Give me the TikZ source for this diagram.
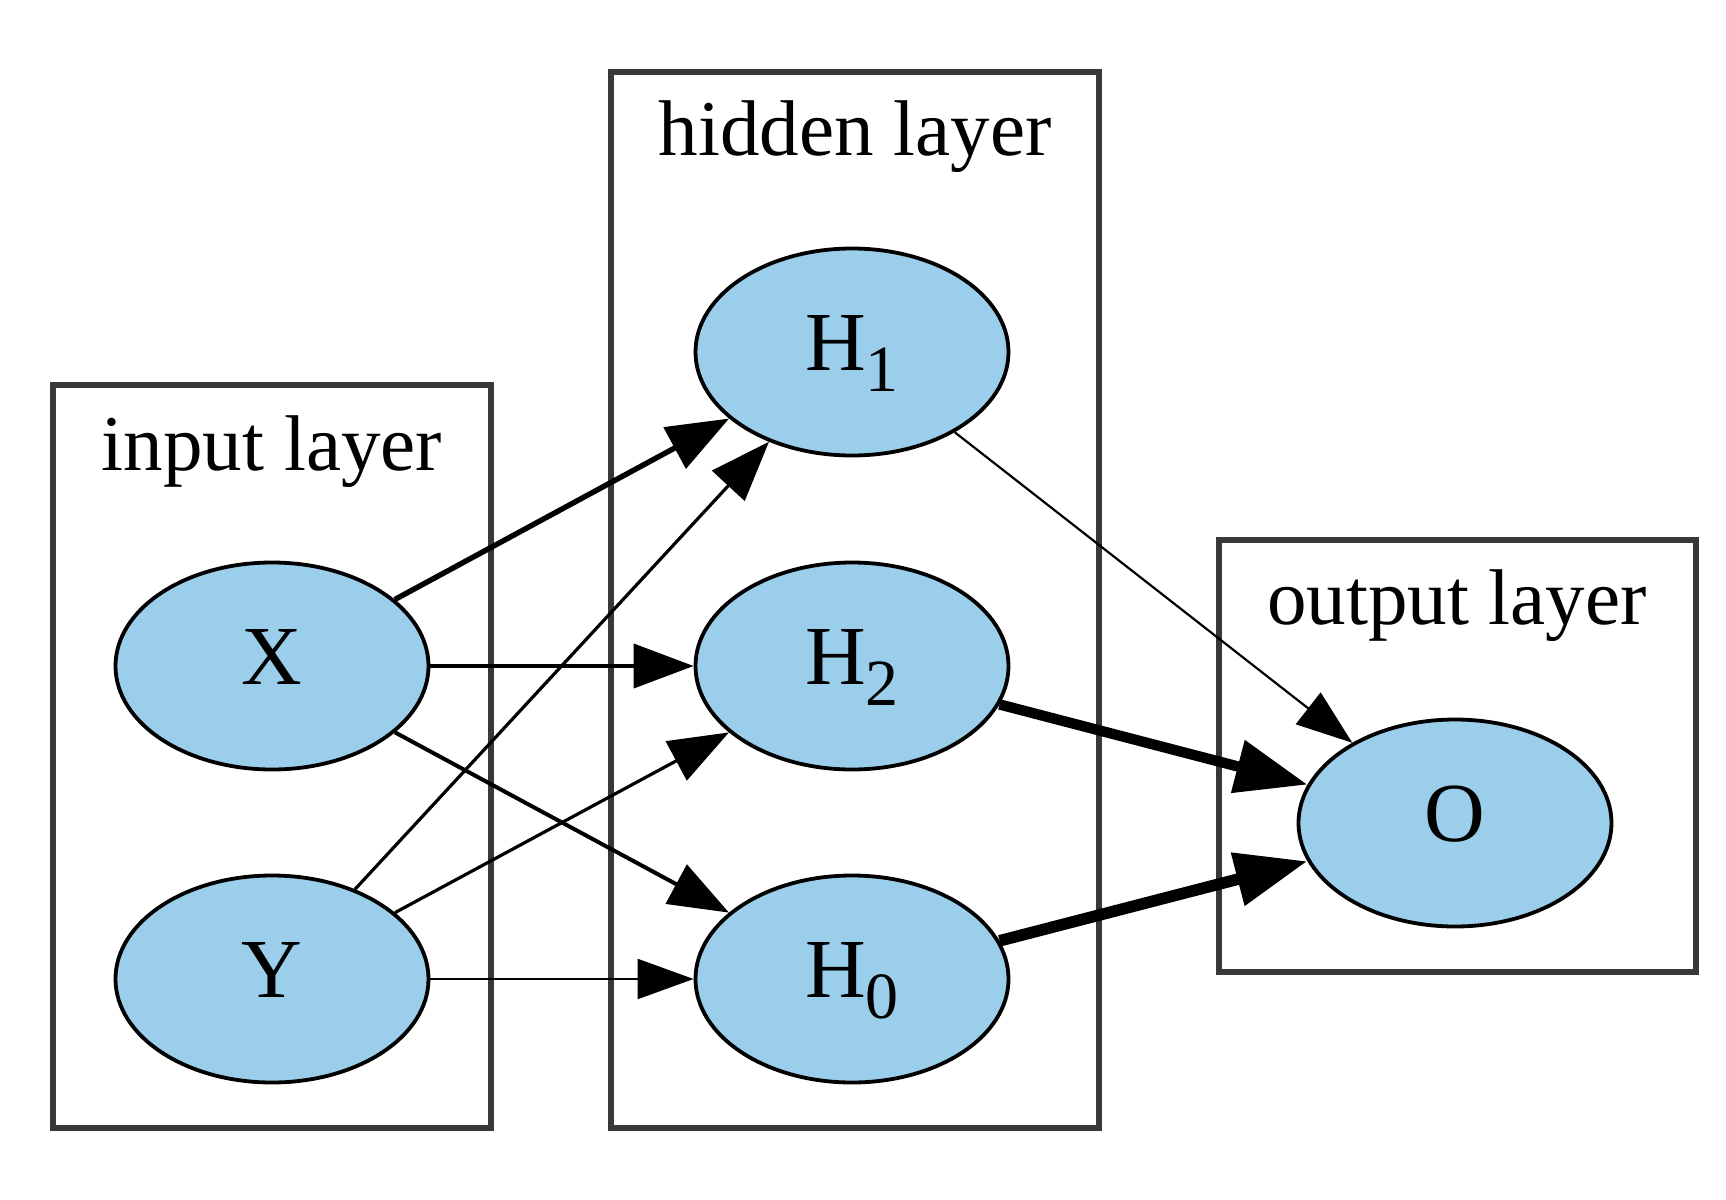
\documentclass[tikz,border=0pt]{standalone}
\usepackage{fontspec}
\setmainfont{Liberation Serif}
\usetikzlibrary{arrows.meta,shapes.geometric}
\definecolor{nodeblue}{HTML}{9BCEEA}
\definecolor{framegray}{HTML}{383838}
\newcommand\lsub[1]{\raisebox{-5.25pt}{\fontsize{16.5}{16}\selectfont #1}}
\begin{document}
\begin{tikzpicture}[x=0.25pt,y=-0.25pt,
  neuron/.style={ellipse, draw=black, line width=0.95pt, fill=nodeblue,
    minimum width=78.25pt, minimum height=51.75pt, inner sep=0pt,
    font=\fontsize{21}{21}\selectfont, text height=11.5pt, text depth=2.5pt},
  layerbox/.style={draw=framegray, line width=1.3pt},
  layertitle/.style={anchor=base, inner sep=0pt, font=\fontsize{19.75}{20}\selectfont},
  edgethin/.style={-{Triangle[length=14pt,width=10pt]}, line width=0.55pt},
  edgelight/.style={-{Triangle[length=15pt,width=11pt]}, line width=0.8pt},
  edgemid/.style={-{Triangle[length=15pt,width=11pt]}, line width=1.0pt},
  edgebold/.style={-{Triangle[length=15.5pt,width=11.5pt]}, line width=1.35pt},
  edgeheavy/.style={-{Triangle[length=18pt,width=13pt]}, line width=2.6pt}]
  \useasboundingbox (0,0) rectangle (1726,1200);
  % layer frames
  \draw[layerbox] (53,385) rectangle (491,1128);
  \draw[layerbox] (611,72) rectangle (1099,1128);
  \draw[layerbox] (1219,540) rectangle (1696,972);
  % titles
  \node[layertitle] (tin) at (272,470) {input layer};
  \node[layertitle] (thid) at (855,155) {hidden layer};
  \node[layertitle] (tout) at (1457,624) {output layer};
  % nodes
  \node[neuron] (X) at (272,666) {X};
  \node[neuron] (Y) at (272,979) {Y};
  \node[neuron] (H1) at (852,352) {H\lsub{1}};
  \node[neuron] (H2) at (852,666) {H\lsub{2}};
  \node[neuron] (H0) at (852,979) {H\lsub{0}};
  \node[neuron] (O) at (1455,823) {O};
  % edges
  \draw[edgebold] (X) -- (H1);
  \draw[edgemid] (X) -- (H2);
  \draw[edgemid] (X) -- (H0);
  \draw[edgelight] (Y) -- (H1);
  \draw[edgelight] (Y) -- (H2);
  \draw[edgethin] (Y) -- (H0);
  \draw[edgethin] (H1) -- (O);
  \draw[edgeheavy] (H2) -- (O);
  \draw[edgeheavy, line width=2.9pt] (H0) -- (O);
\end{tikzpicture}
\end{document}
